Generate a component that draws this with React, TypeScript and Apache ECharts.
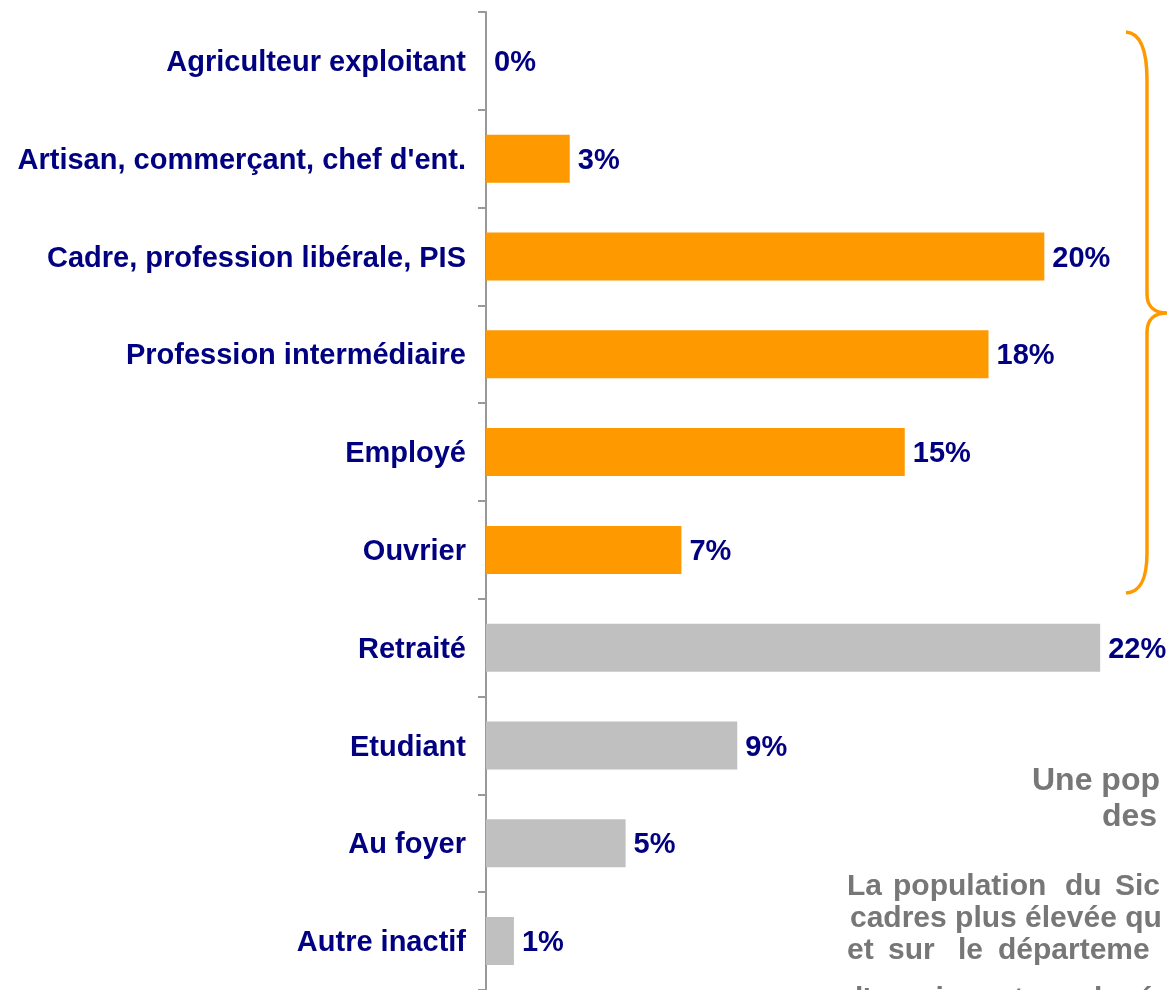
import React, { useEffect, useRef } from "react";
import * as echarts from "echarts";

const categories = [
  "Agriculteur exploitant",
  "Artisan, commerçant, chef d'ent.",
  "Cadre, profession libérale, PIS",
  "Profession intermédiaire",
  "Employé",
  "Ouvrier",
  "Retraité",
  "Etudiant",
  "Au foyer",
  "Autre inactif",
];
const values = [0, 3, 20, 18, 15, 7, 22, 9, 5, 1];
const activeFlags = [true, true, true, true, true, true, false, false, false, false];

const titleLines = ["Une pop", "des"];
const paragraphLines = [
  ["La", "population", "du", "Sic"],
  ["cadres plus élevée qu"],
  ["et", "sur", "le", "départeme"],
  ["d'ouvriers et employé"],
];

const ORANGE = "#FF9900";
const GREY = "#C0C0C0";
const NAVY = "#000080";
const TEXT_GREY = "#777777";
const FONT = "'Liberation Sans', Arial, sans-serif";

const bracePath =
  "M1126,32 C1140,33 1147,48 1147,80 L1147,294 C1147,306 1154,313 1167,313 C1154,313 1147,320 1147,332 L1147,553 C1147,580 1140,592 1126,593";

echarts.graphic.registerShape("brace", echarts.graphic.extendPath(bracePath, {}));

export default function App() {
  const ref = useRef<HTMLDivElement>(null);
  useEffect(() => {
    if (!ref.current) return;
    const chart = echarts.init(ref.current, null, { renderer: "svg" });

    const paraX = [
      [847, 893, 1065, 1115],
      [850],
      [847, 888, 958, 998],
      [845],
    ];
    const paraY = [884, 916, 948, 997];

    const graphics: any[] = [
      {
        type: "brace",
        x: 0,
        y: 0,
        style: { fill: "none", stroke: ORANGE, lineWidth: 3.5 },
      },
      {
        type: "text",
        x: 1032,
        y: 779,
        style: {
          text: titleLines[0],
          font: `bold 32px ${FONT}`,
          lineHeight: 30,
          fill: TEXT_GREY,
          textAlign: "left",
          textVerticalAlign: "middle",
        },
      },
      {
        type: "text",
        x: 1102,
        y: 815,
        style: {
          text: titleLines[1],
          font: `bold 32px ${FONT}`,
          lineHeight: 30,
          fill: TEXT_GREY,
          textAlign: "left",
          textVerticalAlign: "middle",
        },
      },
    ];
    paragraphLines.forEach((words, li) => {
      words.forEach((w, wi) => {
        graphics.push({
          type: "text",
          x: paraX[li][wi],
          y: paraY[li],
          style: {
            text: w,
            font: `bold 30px ${FONT}`,
            lineHeight: 30,
            fill: TEXT_GREY,
            textAlign: "left",
            textVerticalAlign: "middle",
          },
        });
      });
    });

    chart.setOption({
      animation: false,
      grid: { left: 486, top: 12, width: 670, height: 980, containLabel: false },
      xAxis: { type: "value", min: 0, max: 24, show: false },
      yAxis: {
        type: "category",
        inverse: true,
        data: categories,
        axisLine: { show: true, lineStyle: { color: "#999999", width: 2 } },
        axisTick: { show: true, length: 8, lineStyle: { color: "#999999", width: 2 } },
        axisLabel: {
          margin: 20,
          fontSize: 29,
          fontWeight: "bold",
          fontFamily: FONT,
          color: NAVY,
        },
        splitLine: { show: false },
      },
      series: [
        {
          type: "bar",
          barWidth: 48,
          data: values.map((v, i) => ({
            value: v,
            itemStyle: { color: activeFlags[i] ? ORANGE : GREY },
          })),
          label: {
            show: true,
            position: "right",
            distance: 8,
            formatter: "{c}%",
            fontSize: 29,
            fontWeight: "bold",
            fontFamily: FONT,
            color: NAVY,
          },
        },
      ],
      graphic: graphics,
    });
    return () => chart.dispose();
  }, []);
  return (
    <div
      ref={ref}
      style={{ position: "fixed", left: 0, top: 0, width: 1169, height: 990 }}
    />
  );
}
